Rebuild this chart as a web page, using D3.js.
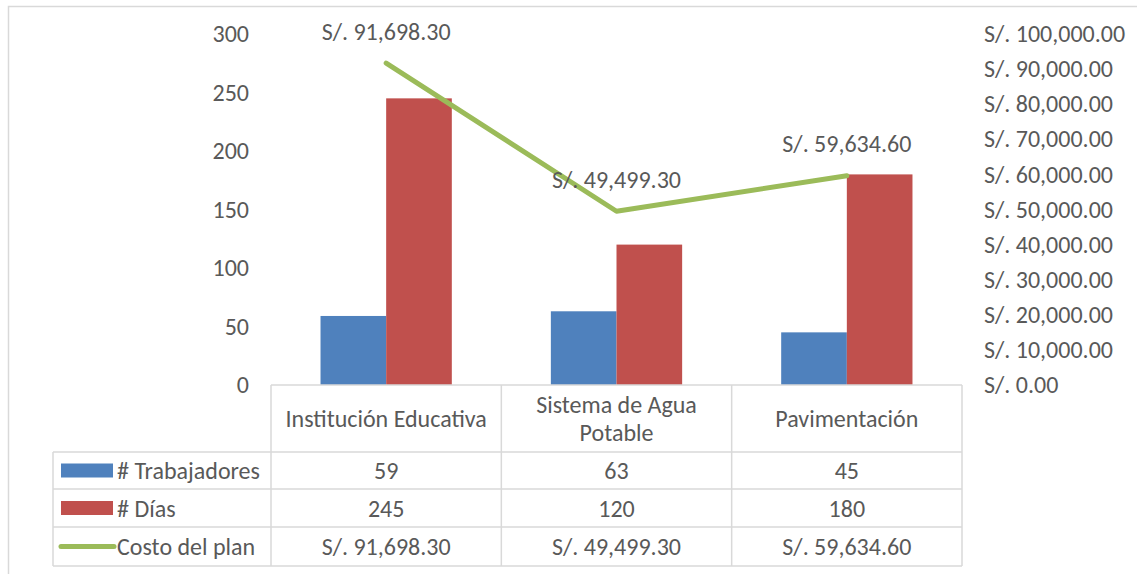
<!DOCTYPE html>
<html>
<head>
<meta charset="utf-8">
<script src="https://cdn.jsdelivr.net/npm/d3@7"></script>
<style>
  body { margin: 0; background: #fff; }
  text { font-family: Carlito, Calibri, Lato, sans-serif; fill: #595959; }
</style>
</head>
<body>
<div id="chart"></div>
<script>
// data
var categories = [["Institución Educativa"], ["Sistema de Agua", "Potable"], ["Pavimentación"]];
var catKeys = ["Institución Educativa", "Sistema de Agua Potable", "Pavimentación"];
var trabajadores = [59, 63, 45];
var dias = [245, 120, 180];
var costo = [91698.30, 49499.30, 59634.60];
var leftTicks = [0, 50, 100, 150, 200, 250, 300];
var rightTicks = [0, 10000, 20000, 30000, 40000, 50000, 60000, 70000, 80000, 90000, 100000];

var W = 1137, H = 574;
var fontSize = 24;
var blue = "#4f81bd", red = "#c0504d", green = "#9bbb59", grid = "#d9d9d9";

var money = function(v) { return "S/. " + d3.format(",.2f")(v); };

var svg = d3.select("#chart").append("svg")
    .attr("width", W)
    .attr("height", H);

// outer chart border (only top and left visible)
svg.append("path")
    .attr("d", "M8.5," + H + "V6.5H" + W)
    .attr("fill", "none")
    .attr("stroke", grid)
    .attr("stroke-width", 1.5);

// scales
var x = d3.scaleBand().domain(catKeys).range([271, 962]);
var xs = d3.scaleBand().domain(["t", "d"])
    .range([x.bandwidth() * 0.215, x.bandwidth() * 0.785]);
var yL = d3.scaleLinear().domain([0, 300]).range([385, 34]);
var yR = d3.scaleLinear().domain([0, 100000]).range([385, 34]);

// left axis
var gL = svg.append("g")
    .attr("transform", "translate(249,0)")
    .call(d3.axisLeft(yL).tickValues(leftTicks).tickSize(0).tickPadding(0));
gL.select(".domain").remove();
gL.selectAll("text").style("font-size", fontSize + "px").attr("fill", "#595959")
    .style("font-family", null);

// right axis
var gR = svg.append("g")
    .attr("transform", "translate(984,0)")
    .call(d3.axisRight(yR).tickValues(rightTicks).tickSize(0).tickPadding(0).tickFormat(money));
gR.select(".domain").remove();
gR.selectAll("text").style("font-size", fontSize + "px").attr("fill", "#595959")
    .style("font-family", null);

// bars
var bars = svg.append("g");
catKeys.forEach(function(c, i) {
    bars.append("rect")
        .attr("x", x(c) + xs("t"))
        .attr("y", yL(trabajadores[i]))
        .attr("width", xs.bandwidth())
        .attr("height", yL(0) - yL(trabajadores[i]))
        .attr("fill", blue);
    bars.append("rect")
        .attr("x", x(c) + xs("d"))
        .attr("y", yL(dias[i]))
        .attr("width", xs.bandwidth())
        .attr("height", yL(0) - yL(dias[i]))
        .attr("fill", red);
});

// cost line
var line = d3.line()
    .x(function(d, i) { return x(catKeys[i]) + x.bandwidth() / 2; })
    .y(function(d) { return yR(d); });
svg.append("path")
    .datum(costo)
    .attr("d", line)
    .attr("fill", "none")
    .attr("stroke", green)
    .attr("stroke-width", 5)
    .attr("stroke-linecap", "round")
    .attr("stroke-linejoin", "round");

// line labels
svg.append("g").selectAll("text")
    .data(costo)
    .enter().append("text")
    .attr("x", function(d, i) { return x(catKeys[i]) + x.bandwidth() / 2; })
    .attr("y", function(d) { return yR(d) - 32; })
    .attr("text-anchor", "middle")
    .attr("dominant-baseline", "central")
    .style("font-size", fontSize + "px")
    .text(money);

// data table
var tableLeft = 53, tableRight = 962;
var rowTops = [385, 452, 489, 527, 566];
var tbl = svg.append("g").attr("fill", "none").attr("stroke", grid).attr("stroke-width", 1.5);

// header row lines
tbl.append("line").attr("x1", x.range()[0]).attr("x2", tableRight).attr("y1", rowTops[0]).attr("y2", rowTops[0]);
rowTops.slice(1).forEach(function(y) {
    tbl.append("line").attr("x1", tableLeft).attr("x2", tableRight).attr("y1", y).attr("y2", y);
});
// vertical lines
tbl.append("line").attr("x1", tableLeft).attr("x2", tableLeft).attr("y1", rowTops[1]).attr("y2", rowTops[4]);
catKeys.forEach(function(c) {
    tbl.append("line").attr("x1", x(c)).attr("x2", x(c)).attr("y1", rowTops[0]).attr("y2", rowTops[4]);
});
tbl.append("line").attr("x1", tableRight).attr("x2", tableRight).attr("y1", rowTops[0]).attr("y2", rowTops[4]);

// category headers
categories.forEach(function(lines, i) {
    var cx = x(catKeys[i]) + x.bandwidth() / 2;
    var cy = (rowTops[0] + rowTops[1]) / 2;
    var lh = 28;
    lines.forEach(function(t, j) {
        svg.append("text")
            .attr("x", cx)
            .attr("y", cy + (j - (lines.length - 1) / 2) * lh)
            .attr("text-anchor", "middle")
            .attr("dominant-baseline", "central")
            .style("font-size", fontSize + "px")
            .text(t);
    });
});

// table rows
var rows = [
    {name: "# Trabajadores", values: trabajadores, fmt: String, key: "rect", color: blue},
    {name: "# Días", values: dias, fmt: String, key: "rect", color: red},
    {name: "Costo del plan", values: costo, fmt: money, key: "line", color: green}
];
rows.forEach(function(r, k) {
    var cy = (rowTops[k + 1] + rowTops[k + 2]) / 2;
    if (r.key == "rect") {
        svg.append("rect")
            .attr("x", 61).attr("y", cy - 7)
            .attr("width", 52).attr("height", 14)
            .attr("fill", r.color);
    } else {
        svg.append("line")
            .attr("x1", 61).attr("x2", 114)
            .attr("y1", cy).attr("y2", cy)
            .attr("stroke", r.color)
            .attr("stroke-width", 5)
            .attr("stroke-linecap", "round");
    }
    svg.append("text")
        .attr("x", 117)
        .attr("y", cy)
        .attr("dominant-baseline", "central")
        .style("font-size", fontSize + "px")
        .text(r.name);
    r.values.forEach(function(v, i) {
        svg.append("text")
            .attr("x", x(catKeys[i]) + x.bandwidth() / 2)
            .attr("y", cy)
            .attr("text-anchor", "middle")
            .attr("dominant-baseline", "central")
            .style("font-size", fontSize + "px")
            .text(r.fmt(v));
    });
});
</script>
</body>
</html>
